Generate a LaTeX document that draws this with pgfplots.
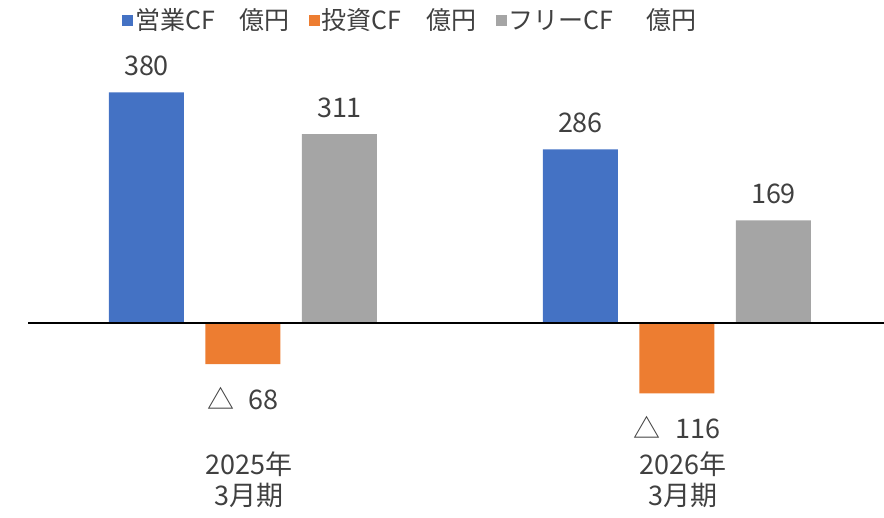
\documentclass[border=0pt]{standalone}
\usepackage{fontspec}
\setmainfont{Noto Sans CJK JP}
\usepackage{pgfplots}
\pgfplotsset{compat=1.18}
\definecolor{cfblue}{HTML}{4472C4}
\definecolor{cforange}{HTML}{ED7D31}
\definecolor{cfgray}{HTML}{A5A5A5}
\definecolor{txt}{HTML}{404040}
\begin{document}
\begin{tikzpicture}
\useasboundingbox (0,0) rectangle (884pt,518pt);
\begin{axis}[
  at={(0,0)}, anchor=south west,
  scale only axis, width=884pt, height=518pt,
  xmin=-0.5599, xmax=1.477, ymin=-321.3, ymax=532.1,
  axis line style={draw=none},
  ytick=\empty,
  xtick={0,1},
  xticklabels={2025年\\3月期, 2026年\\3月期},
  major tick length=0pt,
  xticklabel style={anchor=south, yshift=10pt, xshift=6pt, inner sep=0pt, align=center, font=\fontsize{27pt}{31pt}\selectfont, text=txt},
  ybar, bar width=75pt,
  nodes near coords,
  point meta=explicit symbolic,
  nodes near coords style={font=\fontsize{27pt}{31pt}\selectfont, text=txt, inner sep=0pt},
  legend style={at={(0.138,0.961)}, anchor=west, draw=none, fill=none, inner sep=0pt,
    font=\fontsize{25pt}{29pt}\selectfont, text=txt, legend columns=3,
    /tikz/every even column/.append style={column sep=17pt}},
  legend image code/.code={\fill[#1] (0pt,-5.5pt) rectangle (11pt,5.5pt);},
  clip=false,
]
\addplot[fill=cfblue, draw=none, bar shift=-96.5pt,
  every node near coord/.append style={anchor=south, yshift=16pt}]
  coordinates {(0,380) [380] (1,286) [286]};
\addplot[fill=cforange, draw=none, bar shift=0pt,
  every node near coord/.append style={anchor=north, yshift=-23pt}]
  coordinates {(0,-68) [△\hspace{15pt}68] (1,-116) [△\hspace{15pt}116]};
\addplot[fill=cfgray, draw=none, bar shift=96.5pt,
  every node near coord/.append style={anchor=south, yshift=16pt}]
  coordinates {(0,311) [311] (1,169) [169]};
\legend{営業CF　億円, 投資CF　億円, フリーCF　\hspace{8pt}億円}
\draw[black, line width=2pt] (axis cs:-0.495,0) -- (axis cs:1.477,0);
\end{axis}
\end{tikzpicture}
\end{document}
